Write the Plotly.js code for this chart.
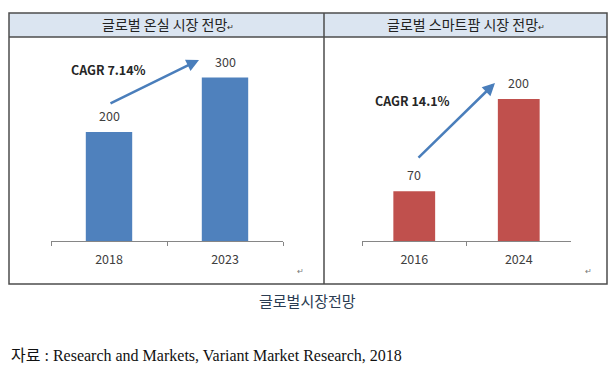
<!DOCTYPE html>
<html><head><meta charset="utf-8">
<script src="https://cdn.plot.ly/plotly-3.0.1.min.js"></script>
<style>html,body{margin:0;padding:0;background:#fff}#chart{width:614px;height:366px}</style>
</head><body><div id="chart"></div>
<script>
// Data
const leftTitle = "글로벌 온실 시장 전망";
const leftYears = ["2018", "2023"];
const leftValues = [200, 300];
const leftCagr = "CAGR 7.14%";

const rightTitle = "글로벌 스마트팜 시장 전망";
const rightYears = ["2016", "2024"];
const rightValues = [70, 200];
const rightCagr = "CAGR 14.1%";

const caption = "글로벌시장전망";
const source = "자료 : Research and Markets, Variant Market Research, 2018";

const W = 614, H = 366;
const px = x => x / W;
const py = y => 1 - y / H;
const font = "'Noto Sans CJK KR', 'Noto Sans', sans-serif";

const traces = [
  {type: "bar", x: leftYears, y: leftValues, xaxis: "x", yaxis: "y", width: 0.4,
   marker: {color: "#4f81bd"}, hoverinfo: "none"},
  {type: "bar", x: rightYears, y: rightValues, xaxis: "x2", yaxis: "y2", width: 0.4,
   marker: {color: "#c0504d"}, hoverinfo: "none"}
];

const axisX = (d, a) => ({
  domain: d, anchor: a, type: "category", range: [-0.5, 1.5], showgrid: false, zeroline: false,
  showline: true, linecolor: "#868686", linewidth: 1, ticks: "outside", ticklen: 4,
  tickcolor: "#868686", tickson: "boundaries", fixedrange: true, ticklabelstandoff: 7,
  tickfont: {family: font, size: 12.5, color: "#404040"}, automargin: false
});
const axisY = (d, r, a) => ({
  domain: d, anchor: a, range: r, showgrid: false, zeroline: false, showline: false,
  showticklabels: false, ticks: "", fixedrange: true
});

const annotations = [];
const lbl = (xr, yr, i, v) => ({x: i, y: v, xref: xr, yref: yr, xanchor: "center", yanchor: "bottom",
  text: String(v), showarrow: false, yshift: 5, font: {family: font, size: 12.5, color: "#404040"}});
leftValues.forEach((v, i) => annotations.push(lbl("x", "y", i, v)));
rightValues.forEach((v, i) => annotations.push(lbl("x2", "y2", i, v)));

const txt = (x, y, t, f, extra) => Object.assign({xref: "paper", yref: "paper", x: px(x), y: py(y),
  xanchor: "center", yanchor: "middle", text: t, showarrow: false, font: f}, extra || {});

// arrows
annotations.push({xref: "paper", yref: "paper", axref: "paper", ayref: "paper",
  x: px(199), y: py(60), ax: px(109), ay: py(104), showarrow: true, arrowhead: 2,
  arrowsize: 1, arrowwidth: 2.5, arrowcolor: "#4a7ebb", text: ""});
annotations.push({xref: "paper", yref: "paper", axref: "paper", ayref: "paper",
  x: px(495), y: py(83), ax: px(417), ay: py(159), showarrow: true, arrowhead: 2,
  arrowsize: 1, arrowwidth: 2.5, arrowcolor: "#4a7ebb", text: ""});
// CAGR labels
annotations.push(txt(108, 69, "<b>" + leftCagr + "</b>", {family: font, size: 12.5, color: "#262626"}));
annotations.push(txt(412, 100, "<b>" + rightCagr + "</b>", {family: font, size: 12.5, color: "#262626"}));
// headers
annotations.push(txt(168, 24, leftTitle + "<span style='font-size:8px'>↵</span>", {family: font, size: 14, color: "#222"}));
annotations.push(txt(466, 24, rightTitle + "<span style='font-size:8px'>↵</span>", {family: font, size: 14, color: "#222"}));
// return marks
annotations.push(txt(300, 270, "↵", {family: font, size: 8, color: "#777"}));
annotations.push(txt(588, 270, "↵", {family: font, size: 8, color: "#777"}));
// caption & source
annotations.push(txt(307, 300, caption, {family: font, size: 15, color: "#2b3c52"}));
annotations.push(txt(9, 355, source, {family: "'Liberation Serif', 'Noto Sans CJK KR', serif", size: 16, color: "#111"}, {xanchor: "left"}));

const shapes = [
  {type: "rect", xref: "paper", yref: "paper", x0: px(9), x1: px(607), y0: py(13), y1: py(37),
   fillcolor: "#dbe5f1", line: {width: 0}, layer: "below"},
  {type: "rect", xref: "paper", yref: "paper", x0: px(9), x1: px(607), y0: py(13), y1: py(284),
   line: {color: "#4d4d4d", width: 1.5}},
  {type: "line", xref: "paper", yref: "paper", x0: px(9), x1: px(607), y0: py(37), y1: py(37),
   line: {color: "#4d4d4d", width: 1.5}},
  {type: "line", xref: "paper", yref: "paper", x0: px(324), x1: px(324), y0: py(13), y1: py(284),
   line: {color: "#4d4d4d", width: 1.5}}
];

const layout = {
  width: W, height: H, margin: {l: 0, r: 0, t: 0, b: 0},
  paper_bgcolor: "#fff", plot_bgcolor: "rgba(0,0,0,0)", showlegend: false,
  xaxis: axisX([px(51), px(283)], "y"),
  xaxis2: axisX([px(362), px(571)], "y2"),
  yaxis: axisY([py(241), py(40)], [0, 201 / 0.545], "x"),
  yaxis2: axisY([py(241), py(40)], [0, 201 / 0.71], "x2"),
  annotations: annotations, shapes: shapes
};

Plotly.newPlot("chart", traces, layout, {displayModeBar: false, staticPlot: true});
</script></body></html>
